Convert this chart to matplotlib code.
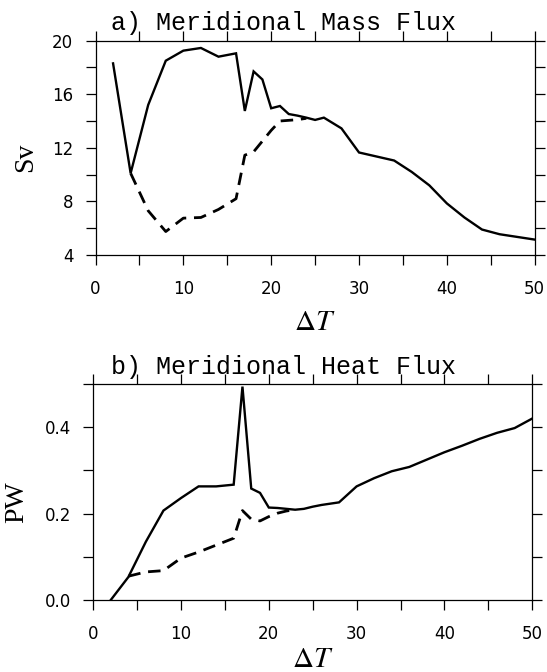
import matplotlib
matplotlib.use('Agg')
import matplotlib.pyplot as plt
from matplotlib.ticker import MultipleLocator

plt.rcParams['mathtext.fontset'] = 'stix'
plt.rcParams['font.family'] = 'DejaVu Sans'

# a) meridional mass flux (Sv) vs Delta T
dT_mass = [2, 4, 6, 8, 10, 12, 14, 16, 17, 18, 19, 20, 21, 22, 23, 24, 25, 26,
           28, 30, 32, 34, 36, 38, 40, 42, 44, 46, 48, 50]
mass_solid = [18.3, 10.1, 15.2, 18.5, 19.25, 19.45, 18.8, 19.05, 14.75, 17.7, 17.1,
              14.95, 15.12, 14.52, 14.4, 14.25, 14.08, 14.25, 13.45, 11.65, 11.35,
              11.05, 10.2, 9.2, 7.85, 6.8, 5.9, 5.55, 5.35, 5.15]
dT_mass_d = [4, 6, 8, 10, 12, 14, 16, 17, 18, 19, 20, 21, 22, 23, 24]
mass_dash = [10.1, 7.3, 5.75, 6.75, 6.8, 7.4, 8.2, 11.45, 11.7, 12.5, 13.3, 14.0,
             14.05, 14.1, 14.2]

# b) meridional heat flux (PW) vs Delta T
dT_heat = dT_mass
heat_solid = [0.0, 0.053, 0.135, 0.207, 0.236, 0.263, 0.263, 0.267, 0.494, 0.258,
              0.248, 0.214, 0.213, 0.211, 0.209, 0.211, 0.216, 0.220, 0.226, 0.263,
              0.282, 0.298, 0.308, 0.325, 0.342, 0.357, 0.373, 0.387, 0.398, 0.42]
dT_heat_d = [4, 6, 8, 10, 12, 14, 16, 17, 18, 19, 20, 21, 22, 23]
heat_dash = [0.055, 0.065, 0.068, 0.097, 0.111, 0.127, 0.143, 0.207, 0.187, 0.183,
             0.193, 0.201, 0.206, 0.209]

W, H = 547, 672
fig = plt.figure(figsize=(W / 100, H / 100), dpi=100)
ax1 = fig.add_axes([95.5 / W, 1 - 255 / H, 439.2 / W, 214.4 / H])
ax2 = fig.add_axes([93.2 / W, 1 - 600 / H, 439.0 / W, 216.0 / H])


def style_axis(ax, ylim, ymaj, ymin, yfmt):
    ax.set_xlim(0, 50)
    ax.set_ylim(*ylim)
    ax.xaxis.set_major_locator(MultipleLocator(10))
    ax.xaxis.set_minor_locator(MultipleLocator(5))
    ax.yaxis.set_major_locator(MultipleLocator(ymaj))
    ax.yaxis.set_minor_locator(MultipleLocator(ymin))
    ax.yaxis.set_major_formatter(yfmt)
    ax.tick_params(which='both', direction='out', length=7, width=0.9,
                   top=True, right=True, color='black')
    ax.tick_params(axis='x', which='major', labelsize=12, pad=11)
    ax.tick_params(axis='y', which='major', labelsize=12, pad=9)
    for s in ax.spines.values():
        s.set_linewidth(0.9)


# top panel
ax1.plot(dT_mass, mass_solid, color='black', lw=1.7, solid_joinstyle='miter')
ax1.plot(dT_mass_d, mass_dash, color='black', lw=2.0, dashes=(4.5, 2.8))
style_axis(ax1, (4, 20), 4, 2, '{x:.0f}')
ax1.text(0.035, 1 + 11 / 214.4, 'a) Meridional Mass Flux', transform=ax1.transAxes,
         family='Liberation Mono', fontsize=18, ha='left', va='baseline')
ax1.text(-0.16, 0.457, 'Sv', transform=ax1.transAxes, family='Liberation Serif',
         fontsize=20, rotation=90, ha='center', va='center')
ax1.text(0.5, -75 / 214.4, r'$\Delta T$', transform=ax1.transAxes, fontsize=21,
         ha='center', va='baseline')

# bottom panel
ax2.plot(dT_heat, heat_solid, color='black', lw=1.7, solid_joinstyle='miter')
ax2.plot(dT_heat_d, heat_dash, color='black', lw=2.0, dashes=(4.5, 2.8))
style_axis(ax2, (0, 0.5), 0.2, 0.1, '{x:.1f}')
ax2.text(0.0405, 1 + 10.4 / 216, 'b) Meridional Heat Flux', transform=ax2.transAxes,
         family='Liberation Mono', fontsize=18, ha='left', va='baseline')
ax2.text(-0.174, 0.454, 'PW', transform=ax2.transAxes, family='Liberation Serif',
         fontsize=20, rotation=90, ha='center', va='center')
ax2.text(0.5, -67 / 216, r'$\Delta T$', transform=ax2.transAxes, fontsize=21,
         ha='center', va='baseline')

fig.savefig('out.png', dpi=100)
